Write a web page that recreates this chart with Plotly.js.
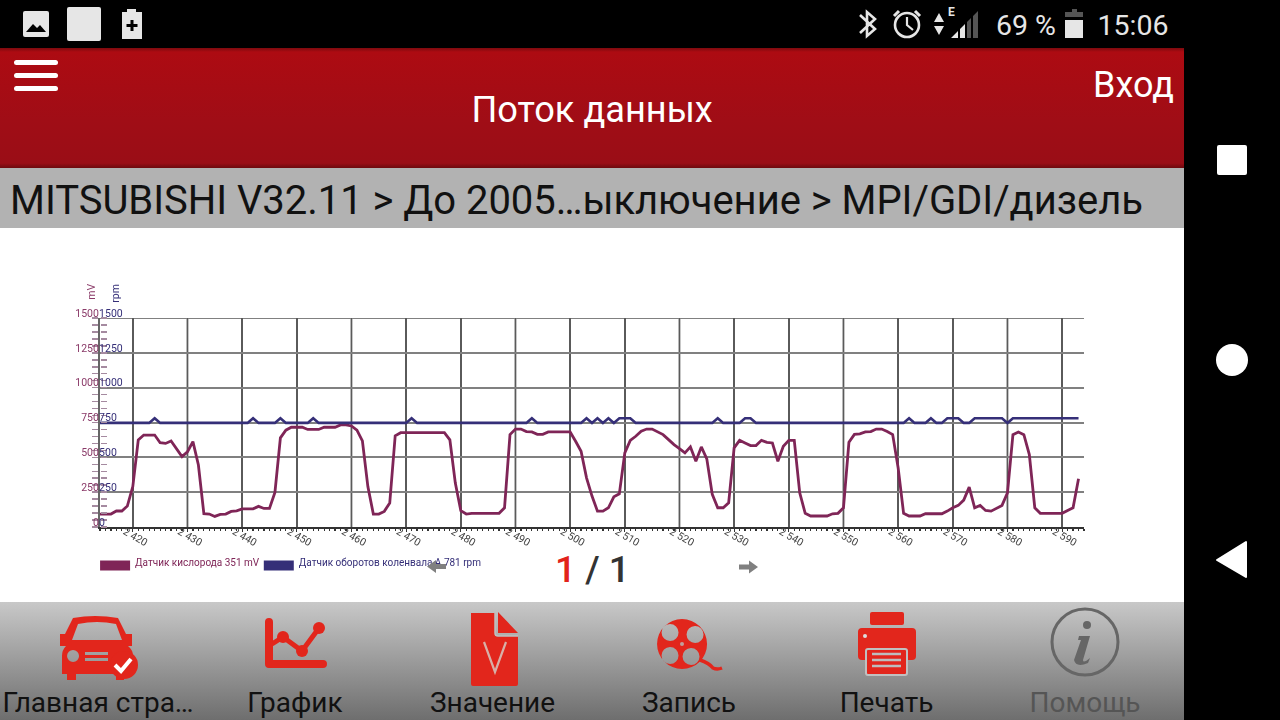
<!DOCTYPE html>
<html lang="ru">
<head>
<meta charset="utf-8">
<title>Поток данных</title>
<script src="https://cdn.plot.ly/plotly-3.0.1.min.js"></script>
<style>
html,body{margin:0;padding:0;width:1280px;height:720px;overflow:hidden;background:#000;font-family:Roboto,sans-serif}
.abs{position:absolute;white-space:nowrap}
#header{position:absolute;left:0;top:48px;width:1184px;height:120px;background:linear-gradient(#7c0a0e 0,#ad0b12 4px,#a00d16 60%,#9a0d16 96%,#6d090e 100%)}
#crumb{position:absolute;left:0;top:168px;width:1184px;height:60px;background:#b2b2b2}
#white{position:absolute;left:0;top:228px;width:1184px;height:374px;background:#fff}
#plot{position:absolute;left:0;top:228px;width:1184px;height:374px;filter:blur(0.4px)}
#nav{position:absolute;left:0;top:602px;width:1184px;height:118px;background:linear-gradient(#c8c8c8,#6e6e6e)}
.navlab{position:absolute;top:685px;font-size:28px;line-height:36px;color:#111;transform:translateX(-50%);white-space:nowrap}
svg.abs{overflow:visible}
</style>
</head>
<body>
<div id="header"></div>
<div id="crumb"></div>
<div id="white"></div>
<div id="plot"></div>
<div id="nav"></div>

<!-- status bar -->
<svg class="abs" style="left:0;top:0" width="1184" height="48">
  <rect x="23" y="11" width="26" height="26" rx="2" fill="#e6e6e6"/>
  <path d="M26 32 L33 24 L37 28 L40 25 L46 32 Z" fill="#000"/>
  <rect x="67" y="7" width="34" height="34" rx="2" fill="#e6e6e6"/>
  <path d="M122 12 H127 V9 H136 V12 H142 V39 H122 Z" fill="#e6e6e6"/>
  <path d="M130.500 20 H133.500 V24 H137.500 V27 H133.500 V31 H130.500 V27 H126.500 V24 H130.500 Z" fill="#000"/>
  <path d="M860 15 L875 29 L867 36 V12 L875 19 L860 33" fill="none" stroke="#e6e6e6" stroke-width="2.600"/>
  <circle cx="907" cy="25" r="12" fill="none" stroke="#e6e6e6" stroke-width="2.600"/>
  <path d="M907 17 V25 L913 30" fill="none" stroke="#e6e6e6" stroke-width="2.200"/>
  <path d="M894 16 L899 11 M920 16 L915 11" stroke="#e6e6e6" stroke-width="3"/>
  <path d="M934 22 L939 13 L944 22 Z M934 26 L944 26 L939 35 Z" fill="#e6e6e6"/>
  <path d="M951 38 L958 31 V38 Z M960 38 V29 L965 24 V38 Z" fill="#e6e6e6"/>
  <path d="M967 38 V22 L971 18 V38 Z M973 38 V16 L978 11 V38 Z" fill="#555"/>
  <path d="M1065 17 V12 H1072 V9 H1077 V12 H1083 V17 Z" fill="#555"/>
  <rect x="1065" y="20" width="18" height="18" fill="#e6e6e6"/>
</svg>
<div class="abs" style="left:948px;top:5px;font-size:12px;font-weight:700;color:#e6e6e6;line-height:14px">E</div>
<div class="abs" style="left:996px;top:8px;font-size:28.500px;line-height:36px;color:#e6e6e6;">69 %</div>
<div class="abs" style="left:1097.500px;top:8px;font-size:28.500px;line-height:36px;color:#e6e6e6;">15:06</div>

<!-- header -->
<svg class="abs" style="left:0;top:0" width="1184" height="168">
  <rect x="14" y="60" width="44" height="5" rx="2.500" fill="#fff"/>
  <rect x="14" y="73" width="44" height="5" rx="2.500" fill="#fff"/>
  <rect x="14" y="86" width="44" height="5" rx="2.500" fill="#fff"/>
</svg>
<div class="abs" style="left:471.500px;top:88px;font-size:36.200px;line-height:44px;color:#fff">Поток данных</div>
<div class="abs" style="left:1093px;top:63px;font-size:36px;line-height:44px;color:#fff">Вход</div>
<div class="abs" style="left:10px;top:177px;font-size:40px;letter-spacing:-0.04px;line-height:48px;color:#111">MITSUBISHI V32.11 &gt; До 2005…ыключение &gt; MPI/GDI/дизель</div>

<!-- pager -->
<div class="abs" style="left:555px;top:548px;font-size:37px;line-height:44px;font-weight:500;color:#333"><span style="color:#e2231a">1</span> / 1</div>
<svg class="abs" style="left:0;top:0;pointer-events:none;z-index:5" width="1184" height="602">
  <path d="M427 566.500 L436 560 V564 H446 V569 H436 V573 Z" fill="#808080"/>
  <path d="M758 567 L749 560.500 V564.500 H739 V569.500 H749 V573.500 Z" fill="#808080"/>
</svg>

<!-- bottom icons -->
<svg class="abs" style="left:0;top:0" width="1184" height="720">
  <g fill="#e2261c">
    <path d="M73 618 Q95 614 118 618 L126 634 H132 V646 H128 Q133 650 133 656 V674 H124 V680 H116 V674 H76 V680 H67 V674 H62 V656 Q62 650 66 646 H60 V634 H65 Z M78 624 L72 640 H122 L116 624 Q97 620 78 624 Z M73 650 A6 6 0 1 0 73.100 662 A6 6 0 0 0 73 650 Z M85 652 V655 H108 V652 Z M85 658 V661 H108 V658 Z"/>
    <circle cx="124" cy="665" r="14"/>
    <path d="M265 622 a4 4 0 0 1 8 0 V660 H323 a4 4 0 0 1 0 8 H269 a4 4 0 0 1 -4 -4 Z"/>
    <circle cx="283" cy="637" r="6"/><circle cx="302" cy="651" r="6"/><circle cx="319" cy="628" r="6"/>
    <path d="M471 613 H495 V636 H518 V684 a2 2 0 0 1 -2 2 H473 a2 2 0 0 1 -2 -2 Z M498 612 L518 633 H498 Z"/>
    <path fill-rule="evenodd" d="M682 619 A25 25 0 1 0 682.100 669 A25 25 0 0 0 682 619 Z M670 624 A8.500 8.500 0 1 0 670.100 641 A8.500 8.500 0 0 0 670 624 Z M695 626 A8.500 8.500 0 1 0 695.100 643 A8.500 8.500 0 0 0 695 626 Z M670 647 A8.500 8.500 0 1 0 670.100 664 A8.500 8.500 0 0 0 670 647 Z M691 648 A8.500 8.500 0 1 0 691.100 665 A8.500 8.500 0 0 0 691 648 Z"/>
    <rect x="858" y="628" width="58" height="32" rx="4"/>
    <rect x="870" y="612" width="34" height="13" rx="2"/>
  </g>
  <path d="M272 644 L283 637 L302 651 L319 628" fill="none" stroke="#e2261c" stroke-width="5" stroke-linejoin="round"/>
  <path d="M700 660 Q709 663 713 668 Q717 670 722 668" fill="none" stroke="#e2261c" stroke-width="3.500"/>
  <rect x="866" y="649" width="41" height="26" rx="2" fill="#e2261c" stroke="#c0c0c0" stroke-width="2"/>
  <path d="M872 654 H901 M872 660 H901 M872 666 H901" stroke="#bdbdbd" stroke-width="2.500"/>
  <circle cx="865" cy="636" r="2" fill="#ddd"/>
  <path d="M115 665 L121 671 L131 659" fill="none" stroke="#fff" stroke-width="4"/>
  <path d="M495 613 V633 a3 3 0 0 0 3 3 H518" fill="none" stroke="#c0c0c0" stroke-width="1.500"/>
  <path d="M484 642 L495 672 L506 642" fill="none" stroke="#d8b0a8" stroke-width="2.200"/>
  <circle cx="682" cy="644" r="2" fill="#c0a09c"/>
  <circle cx="1085" cy="642" r="33" fill="none" stroke="#666" stroke-width="3"/>
  <circle cx="1087" cy="625" r="4" fill="#666"/>
  <path d="M1079 636 H1090 L1083 660 Q1083 664 1090 658 L1088 663 Q1076 668 1074 660 L1081 640 L1078 640 Z" fill="#666"/>
</svg>
<div class="navlab" style="left:98px">Главная стра…</div>
<div class="navlab" style="left:295px">График</div>
<div class="navlab" style="left:492.500px">Значение</div>
<div class="navlab" style="left:689px">Запись</div>
<div class="navlab" style="left:886.500px">Печать</div>
<div class="navlab" style="left:1085px;color:#555">Помощь</div>

<!-- system nav -->
<svg class="abs" style="left:1184px;top:0" width="96" height="720">
  <rect x="33" y="145" width="30" height="30" rx="2" fill="#fff"/>
  <circle cx="48" cy="360" r="16" fill="#fff"/>
  <path d="M62 542 V577 L33 560 Z" fill="#fff" stroke="#fff" stroke-width="2" stroke-linejoin="round"/>
</svg>

<script>
const sampleIndex = [
  2414,2415,2416,2417,2418,2419,
  2420,2421,2422,2423,2424,2425,2426,2427,2428,2429,
  2430,2431,2432,2433,2434,2435,2436,2437,2438,2439,
  2440,2441,2442,2443,2444,2445,2446,2447,2448,2449,
  2450,2451,2452,2453,2454,2455,2456,2457,2458,2459,
  2460,2461,2462,2463,2464,2465,2466,2467,2468,2469,
  2470,2471,2472,2473,2474,2475,2476,2477,2478,2479,
  2480,2481,2482,2483,2484,2485,2486,2487,2488,2489,
  2490,2491,2492,2493,2494,2495,2496,2497,2498,2499,
  2500,2501,2502,2503,2504,2505,2506,2507,2508,2509,
  2510,2511,2512,2513,2514,2515,2516,2517,2518,2519,
  2520,2521,2522,2523,2524,2525,2526,2527,2528,2529,
  2530,2531,2532,2533,2534,2535,2536,2537,2538,2539,
  2540,2541,2542,2543,2544,2545,2546,2547,2548,2549,
  2550,2551,2552,2553,2554,2555,2556,2557,2558,2559,
  2560,2561,2562,2563,2564,2565,2566,2567,2568,2569,
  2570,2571,2572,2573,2574,2575,2576,2577,2578,2579,
  2580,2581,2582,2583,2584,2585,2586,2587,2588,2589,
  2590,2591,2592,2593
];
const oxygenMv = [
  93,93,93,115,115,150,
  290,625,660,660,660,605,600,618,565,505,
  540,613,445,95,93,76,90,93,112,116,
  130,130,130,148,133,133,248,640,695,716,
  716,716,700,700,700,716,716,716,733,733,
  725,695,618,290,93,93,112,172,655,677,
  677,677,677,677,677,677,677,677,625,315,
  117,93,98,98,98,98,98,98,138,663,
  703,703,685,682,665,665,682,682,682,682,
  682,615,544,353,222,114,114,138,217,238,
  532,622,651,687,703,703,685,663,627,591,
  563,532,575,472,575,489,234,138,138,174,
  568,622,603,584,584,622,608,603,472,580,
  622,622,245,98,79,79,79,79,95,98,
  138,608,665,668,682,685,703,703,685,663,
  425,98,79,79,79,95,95,95,95,114,
  138,155,193,286,138,155,119,114,136,155,
  245,663,682,663,520,138,98,98,98,98,
  98,119,138,346
];
const engineRpm = [
  747,747,747,747,747,747,
  747,747,747,747,781,747,747,747,747,747,
  747,747,747,747,747,747,747,747,747,747,
  747,747,781,747,747,747,747,781,747,747,
  747,747,747,781,747,747,747,747,747,747,
  747,747,747,747,747,747,747,747,747,747,
  747,781,747,747,747,747,747,747,747,747,
  747,747,747,747,747,747,747,747,747,747,
  747,747,747,781,747,747,747,747,747,747,
  747,747,747,781,747,781,747,781,747,781,
  781,781,747,747,747,747,747,747,747,747,
  747,747,747,747,747,747,747,781,747,747,
  747,747,781,781,747,747,747,747,747,747,
  747,747,747,747,747,747,747,747,747,747,
  747,747,747,747,747,747,747,747,747,747,
  747,747,781,747,747,747,781,747,747,781,
  781,781,747,747,781,781,781,781,781,781,
  747,781,781,781,781,781,781,781,781,781,
  781,781,781,781
];
const xTickValues = [2420,2430,2440,2450,2460,2470,2480,2490,2500,2510,2520,2530,2540,2550,2560,2570,2580,2590];
const xTickLabels = ["2 420","2 430","2 440","2 450","2 460","2 470","2 480","2 490","2 500","2 510","2 520","2 530","2 540","2 550","2 560","2 570","2 580","2 590"];
const darkGridValues = [2430,2460,2480,2490,2520,2550,2580];
const yTickValues = [0,250,500,750,1000,1250,1500];
const yTopValue = 1500;
const oxygenName = "Датчик кислорода 351 mV";
const rpmName = "Датчик оборотов коленвала A 781 rpm";
const oxygenColor = "#7f2557";
const rpmColor = "#352f78";
const labelPurple = "#8a3a68";

const yCommon = {
  range:[0,1500], tickmode:"array", tickvals:yTickValues, ticks:"outside", ticklen:6, tickwidth:1.5,
  tickcolor:"#a58aa0", minor:{tickmode:"linear", tick0:0, dtick:50, ticks:"outside", ticklen:6, tickwidth:1.5, tickcolor:"#a58aa0", showgrid:false},
  zeroline:false, fixedrange:true, ticklabelshift:-5
};
Plotly.newPlot("plot", [
  {x:sampleIndex, y:oxygenMv, name:`<span style="color:${oxygenColor}">${oxygenName}</span>`, mode:"lines", yaxis:"y",
   line:{color:oxygenColor,width:2.8,shape:"linear"}, hoverinfo:"skip"},
  {x:sampleIndex, y:engineRpm, name:`<span style="color:${rpmColor}">${rpmName}</span>`, mode:"lines", yaxis:"y2",
   line:{color:rpmColor,width:2.6,shape:"linear"}, hoverinfo:"skip"}
], {
  width:1184, height:374, paper_bgcolor:"rgba(0,0,0,0)", plot_bgcolor:"rgba(0,0,0,0)",
  margin:{l:100,r:100,t:90,b:74.5,pad:0},
  font:{family:"Roboto, sans-serif",size:10},
  showlegend:true,
  legend:{orientation:"h",x:-0.005,xanchor:"left",y:-0.1005,yanchor:"top",itemwidth:30,font:{size:10},bgcolor:"rgba(0,0,0,0)",traceorder:"normal"},
  xaxis:{range:[2414,2594], tickmode:"array", tickvals:xTickValues, ticktext:xTickLabels, tickangle:30, ticklabelshift:-8, ticklabelstandoff:-10,
    tickfont:{size:10.5,color:"#444"}, ticks:"outside", ticklen:3, tickwidth:1.2, tickcolor:"#333",
    showgrid:true, gridcolor:"#5a5a5a", gridwidth:1.5, zeroline:false, showline:true, linecolor:"#333", linewidth:1.5, fixedrange:true,
    minor:{tickmode:"linear",tick0:2414,dtick:1,ticks:"outside",ticklen:2,tickwidth:1.2,tickcolor:"#333",showgrid:false}},
  yaxis:Object.assign({},yCommon,{side:"left",ticklabelstandoff:-9,tickfont:{size:10.5,color:labelPurple},showgrid:true,gridcolor:"#808080",gridwidth:2,showline:true,linecolor:"#666",linewidth:2}),
  yaxis2:Object.assign({},yCommon,{side:"right",ticklabelstandoff:-10,overlaying:"y",anchor:"free",position:0,tickfont:{size:10.5,color:rpmColor},showgrid:false,showline:false}),
  shapes:darkGridValues.map(v=>({type:"line",xref:"x",yref:"paper",x0:v,x1:v,y0:0,y1:1,layer:"below",line:{color:"#000",width:1.5}}))
    .concat([{type:"line",xref:"paper",yref:"y",x0:0,x1:1,y0:yTopValue,y1:yTopValue,layer:"below",line:{color:"#808080",width:2}}]),
  annotations:[
    {text:"mV",xref:"paper",yref:"paper",x:-0.0175,y:1.175,textangle:-90,showarrow:false,font:{size:10.5,color:labelPurple}},
    {text:"rpm",xref:"paper",yref:"paper",x:0.0075,y:1.175,textangle:-90,showarrow:false,font:{size:10.5,color:rpmColor}}
  ]
}, {staticPlot:true, displayModeBar:false}).then(gd => {
  gd.querySelectorAll(".legendlines path").forEach(p => {
    p.style.strokeWidth = "10px";
    p.setAttribute("transform", "translate(0,3)");
  });
  const entries = gd.querySelectorAll(".legend .traces");
  if (entries[1]) {
    const t = entries[1].getAttribute("transform") || "";
    entries[1].setAttribute("transform", t + " translate(-6,0)");
  }
});
</script>
</body>
</html>
